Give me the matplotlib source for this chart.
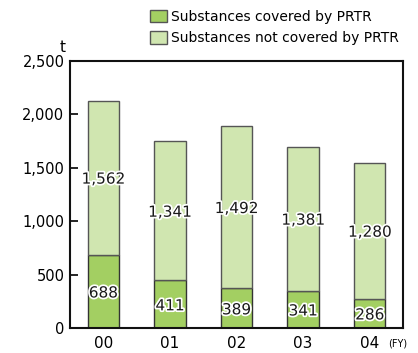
import matplotlib.pyplot as plt
import matplotlib.patheffects as pe
from matplotlib.patches import Patch
import numpy as np

years = ["00", "01", "02", "03", "04"]
# heights as drawn in the picture
covered = [686, 445, 370, 349, 274]
not_covered = [1440, 1302, 1521, 1345, 1270]
# values as printed on the bars
covered_labels = ["688", "411", "389", "341", "286"]
not_covered_labels = ["1,562", "1,341", "1,492", "1,381", "1,280"]

dark_green = "#a3cf62"
light_green = "#d0e6b0"

plt.rcParams['font.family'] = ['Liberation Sans Narrow', 'DejaVu Sans']

fig = plt.figure(figsize=(4.18, 3.53), dpi=100)
ax = fig.add_axes([70 / 418, 25 / 353, 333 / 418, 267 / 353])

x = np.arange(len(years))
w = 0.47
ax.bar(x, covered, w, color=dark_green, edgecolor="#333333", linewidth=1.0)
ax.bar(x, not_covered, w, bottom=covered, color=light_green, edgecolor="#555555", linewidth=1.0)

halo = [pe.withStroke(linewidth=2.5, foreground="white")]
for i in range(len(years)):
    ax.text(x[i], covered[i] / 2 - 15, covered_labels[i], ha="center", va="center",
            fontsize=11, color="#1a1a1a", path_effects=halo)
    ax.text(x[i], covered[i] + not_covered[i] / 2 - 12, not_covered_labels[i], ha="center",
            va="center", fontsize=11, color="#1a1a1a", path_effects=halo)

ax.set_xlim(-0.5, 4.5)
ax.set_ylim(0, 2500)
ticks = [0, 500, 1000, 1500, 2000, 2500]
ax.set_yticks(ticks)
ax.set_yticklabels([f"{v:,}" for v in ticks], fontsize=10.5)
ax.set_xticks(x)
ax.set_xticklabels(years, fontsize=11)
ax.tick_params(axis="y", direction="in", length=6, width=1.2, pad=4)
ax.tick_params(axis="x", length=0, pad=6)
for s in ax.spines.values():
    s.set_linewidth(1.5)
    s.set_color("#111111")

fig.text(63 / 418, 1 - 47 / 353, "t", fontsize=11, ha="center", va="center")
fig.text(398 / 418, 1 - 343 / 353, "(FY)", fontsize=7, ha="center", va="center")

handles = [Patch(facecolor=dark_green, edgecolor="#555555", label="Substances covered by PRTR"),
           Patch(facecolor=light_green, edgecolor="#555555", label="Substances not covered by PRTR")]
fig.legend(handles=handles, loc="upper left", bbox_to_anchor=(140 / 418, 1 - 0 / 353),
           frameon=False, fontsize=10, handlelength=1.27, handleheight=1.0,
           handletextpad=0.25, labelspacing=0.55, borderpad=0.2)

fig.savefig("out.png", dpi=100)
